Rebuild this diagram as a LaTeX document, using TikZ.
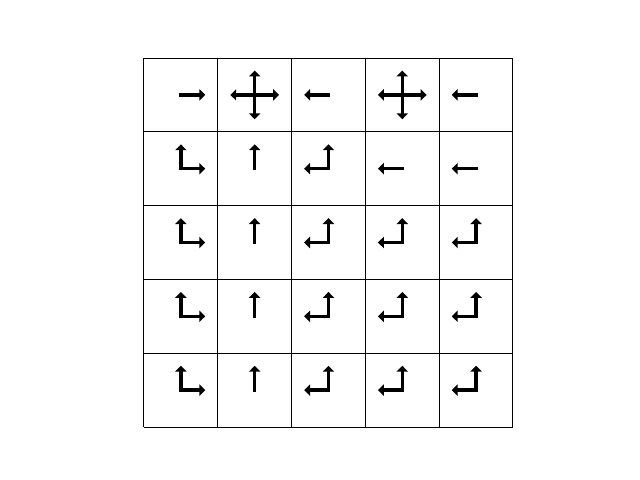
\documentclass[tikz,border=0pt]{standalone}
\usetikzlibrary{arrows.meta}
\tikzset{
  cellline/.style={line width=0.7pt},
  policy/.style={line width=2.5pt, line cap=rect, -{Triangle[length=4.2pt,width=8pt]}}
}
\begin{document}
\begin{tikzpicture}[x=1.845cm,y=1.845cm]
  \useasboundingbox (-1.951,-0.718) rectangle (6.721,5.786);
  \draw[cellline] (0,0) grid[step=1.845cm] (5,5);
  % cell centres, row 0 at the top
  \foreach \r in {0,...,4}
    \foreach \c in {0,...,4}
      \coordinate (c\r\c) at (\c+0.5,4.5-\r);
  \begin{scope}[policy]
    \foreach \cell in {00,01,03,10,20,30,40}
      \draw (c\cell) -- ++(0.33,0);
    \foreach \cell in {01,02,03,04,12,13,14,22,23,24,32,33,34,42,43,44}
      \draw (c\cell) -- ++(-0.33,0);
    \foreach \cell in {01,03,10,11,12,20,21,22,23,24,30,31,32,33,34,40,41,42,43,44}
      \draw (c\cell) -- ++(0,0.33);
    \foreach \cell in {01,03}
      \draw (c\cell) -- ++(0,-0.33);
  \end{scope}
\end{tikzpicture}
\end{document}
